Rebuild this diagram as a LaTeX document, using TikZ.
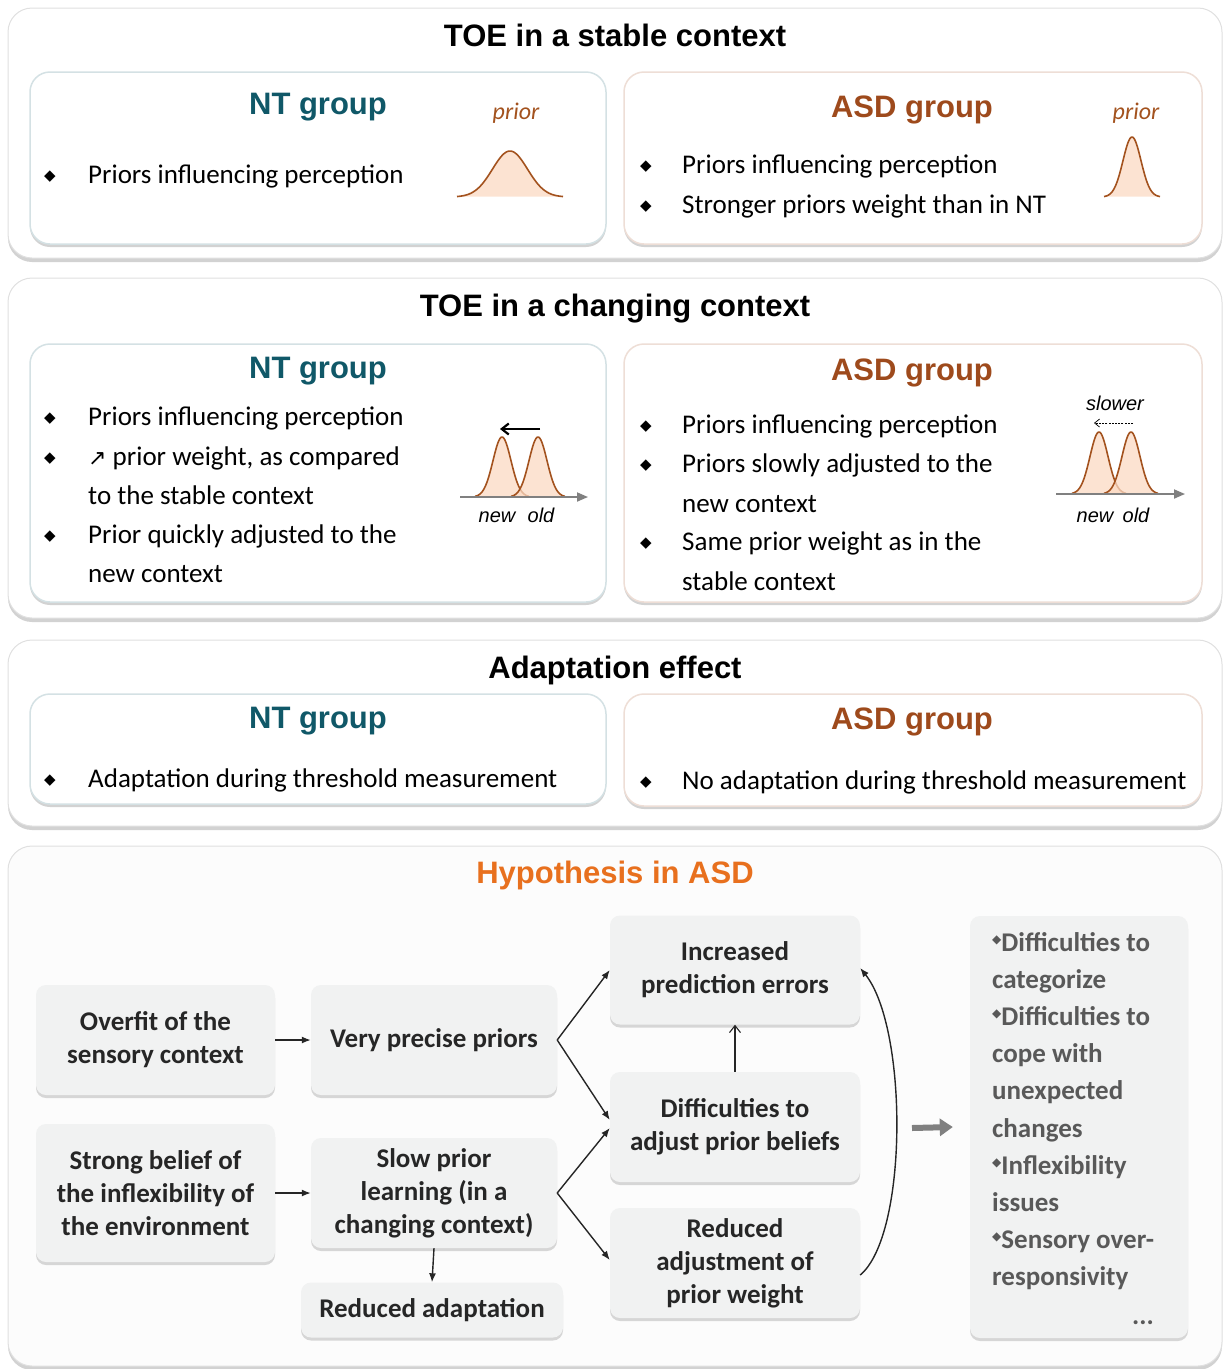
\documentclass[tikz,border=0pt]{standalone}
\usepackage{fontspec}
\setmainfont{Carlito}
\newfontfamily\arialfont{Liberation Sans}
\newfontfamily\symfont{DejaVu Sans}
\usepackage{tikz}
\usetikzlibrary{arrows.meta,positioning,calc,shadows}
\definecolor{ntcol}{RGB}{16,88,104}
\definecolor{asdcol}{RGB}{158,74,28}
\definecolor{hypcol}{RGB}{232,112,30}
\definecolor{gausline}{RGB}{163,82,30}
\definecolor{gausfill}{RGB}{251,218,196}
\definecolor{boxgray}{RGB}{241,242,242}
\definecolor{txtgray}{RGB}{38,38,38}
\definecolor{listgray}{RGB}{89,89,89}
\newcommand{\bul}{{\symfont\fontsize{15}{15}\selectfont\raisebox{3pt}{◆}}}
\newcommand{\lbul}{{\symfont\fontsize{12}{12}\selectfont\raisebox{8pt}{◆}}}
\newcommand{\priorcurve}[5]{% centre x, base y, height, sigma, half width
  \filldraw[fill=gausfill,fill opacity=0.75,draw=gausline,line width=1.6pt]
    plot[domain=-#5:#5,samples=60,smooth] ({#1+\x},{#2-#3*exp(-0.5*(\x/#4)*(\x/#4))});}

\begin{document}
\begin{tikzpicture}[x=1pt,y=-1pt,
  panel/.style={draw=black!12,line width=1pt,fill=white,rounded corners=24pt,
    drop shadow={shadow xshift=0pt,shadow yshift=-4pt,fill=black!35}},
  ntbox/.style={draw=ntcol!18,line width=1.5pt,fill=white,rounded corners=20pt,
    drop shadow={shadow xshift=0pt,shadow yshift=-3pt,fill=black!35}},
  asdbox/.style={ntbox,draw=asdcol!18},
  title/.style={font=\arialfont\bfseries\fontsize{31}{36}\selectfont,anchor=base,inner sep=0pt},
  ntname/.style={title,text=ntcol},
  asdname/.style={title,text=asdcol},
  body/.style={font=\fontsize{27}{33}\selectfont,anchor=base west,inner sep=0pt},
  bullet/.style={anchor=base,inner sep=0pt},
  priorlab/.style={font=\itshape\fontsize{24}{28}\selectfont,text=gausline,anchor=base,inner sep=0pt},
  axlab/.style={font=\arialfont\itshape\fontsize{20}{24}\selectfont,anchor=base,inner sep=0pt},
  axis/.style={-{Triangle[length=11pt,width=9pt]},draw=black!50,line width=1.8pt},
  hbox/.style={fill=boxgray,rounded corners=10pt,align=center,inner sep=0pt,
    font=\bfseries\fontsize{27}{33}\selectfont,text=txtgray,
    drop shadow={shadow xshift=0pt,shadow yshift=-3pt,fill=black!30}},
  listline/.style={font=\bfseries\fontsize{27}{33}\selectfont,text=listgray,anchor=base west,inner sep=0pt},
  arr/.style={-{Latex[length=9pt,width=7pt]},line width=1.4pt,draw=black!85}]
\useasboundingbox (0,0) rectangle (1224,1369);

% TOE in a stable context
\path[panel] (8,8) rectangle (1222,258);
\node[title] (stabletitle) at (615,46) {TOE in a stable context};
\path[ntbox] (30,72) rectangle (606,244);
\path[asdbox] (624,72) rectangle (1202,244);
\node[ntname] (stablent) at (318,114) {NT group};
\node[asdname] (stableasd) at (912,117) {ASD group};
\node[priorlab] (stablentprior) at (516,119) {prior};
\node[priorlab] (stableasdprior) at (1136,119) {prior};
\node[bullet] (stablentb) at (50,183) {\bul};
\node[body] (stablentl) at (88,183) {Priors influencing perception};
\foreach \n/\y/\t in {a/173/Priors influencing perception,b/213/Stronger priors weight than in NT}{
  \node[bullet] (stableasdb\n) at (646,\y) {\bul};
  \node[body] (stableasdl\n) at (682,\y) {\t};
}
\priorcurve{510}{197}{46}{17.5}{53}
\priorcurve{1132}{197}{60}{9}{28}

% TOE in a changing context
\path[panel] (8,278) rectangle (1222,618);
\node[title] (changetitle) at (615,316) {TOE in a changing context};
\path[ntbox] (30,344) rectangle (606,602);
\path[asdbox] (624,344) rectangle (1202,602);
\node[ntname] (changent) at (318,378) {NT group};
\node[asdname] (changeasd) at (912,380) {ASD group};
\foreach \n/\y/\t in {a/425/Priors influencing perception,b/465/{{\symfont\fontsize{22}{22}\selectfont ↗} prior weight, as compared},
  c/504/to the stable context,d/543/Prior quickly adjusted to the,e/582/new context}
  \node[body] (changentl\n) at (88,\y) {\t};
\foreach \n/\y/\t in {a/433/Priors influencing perception,b/472/Priors slowly adjusted to the,
  c/512/new context,d/550/Same prior weight as in the,e/590/stable context}
  \node[body] (changeasdl\n) at (682,\y) {\t};
\foreach \y in {425,465,543} \node[bullet] (changentb\y) at (50,\y) {\bul};
\foreach \y in {433,472,550} \node[bullet] (changeasdb\y) at (646,\y) {\bul};
\priorcurve{502}{497}{60}{9}{27}
\priorcurve{538}{497}{60}{9}{27}
\draw[axis] (460,497) -- (588,497);
\draw[-{Straight Barb[length=7pt,width=11pt]},line width=2.2pt] (540,429) -- (500,429);
\node[axlab] (ntnew) at (497,522) {new};
\node[axlab] (ntold) at (541,522) {old};
\priorcurve{1099}{494}{62}{9}{27}
\priorcurve{1131}{494}{62}{9}{27}
\draw[axis] (1056,494) -- (1185,494);
\draw[-{Straight Barb[length=5pt,width=8pt]},line width=0.7pt,dash pattern=on 2pt off 1.2pt] (1133,423) -- (1094,423);
\node[axlab] (slower) at (1115,410) {slower};
\node[axlab] (asdnew) at (1095,522) {new};
\node[axlab] (asdold) at (1136,522) {old};

% Adaptation effect
\path[panel] (8,640) rectangle (1222,826);
\node[title] (adapttitle) at (615,678) {Adaptation effect};
\path[ntbox] (30,694) rectangle (606,804);
\path[asdbox] (624,694) rectangle (1202,806);
\node[ntname] (adaptnt) at (318,728) {NT group};
\node[asdname] (adaptasd) at (912,729) {ASD group};
\node[bullet] (adaptntb) at (50,787) {\bul};
\node[body] (adaptntl) at (88,787) {Adaptation during threshold measurement};
\node[bullet] (adaptasdb) at (646,789) {\bul};
\node[body] (adaptasdl) at (682,789) {No adaptation during threshold measurement};

% Hypothesis in ASD
\path[panel,fill=black!1] (8,846) rectangle (1222,1366);
\node[title,text=hypcol] (hyptitle) at (615,883) {Hypothesis in ASD};
\node[hbox,minimum width=239,minimum height=110] (overfit) at (155.5,1040) {Overfit of the\\sensory context};
\node[hbox,minimum width=239,minimum height=138] (belief) at (155.5,1193) {Strong belief of\\the inflexibility of\\the environment};
\node[hbox,minimum width=246,minimum height=110] (precise) at (434,1040) {Very precise priors};
\node[hbox,minimum width=246,minimum height=110] (slow) at (434,1193) {Slow prior\\learning (in a\\changing context)};
\node[hbox,minimum width=262,minimum height=55] (redadapt) at (432,1310) {Reduced adaptation};
\node[hbox,minimum width=250,minimum height=109] (errors) at (735,970) {Increased\\prediction errors};
\node[hbox,minimum width=250,minimum height=110] (adjust) at (735,1127) {Difficulties to\\adjust prior beliefs};
\node[hbox,minimum width=250,minimum height=110] (weight) at (735,1263) {Reduced\\adjustment of\\prior weight};
\node[hbox,minimum width=218,minimum height=422] (effects) at (1079,1127) {};
\foreach \n/\y/\t in {a/951/\lbul Difficulties to,b/988/categorize,c/1025/\lbul Difficulties to,d/1062/cope with,
  e/1099/unexpected,f/1137/changes,g/1174/\lbul Inflexibility,h/1211/issues,i/1248/\lbul Sensory over-,j/1285/responsivity}
  \node[listline] (effects\n) at (992,\y) {\t};
\node[listline,anchor=base] (effectsdots) at (1143,1324) {...};

\draw[arr] (overfit) -- (precise);
\draw[arr] (belief.east) -- (slow.west);
\draw[arr] (precise.east) -- (errors.west);
\draw[arr] (precise.east) -- ([yshift=7pt]adjust.west);
\draw[arr] (slow.east) -- ([yshift=-1pt]adjust.west);
\draw[arr] (slow.east) -- ([yshift=3pt]weight.west);
\draw[arr] (slow.south) -- (redadapt.north);
\draw[-{Straight Barb[length=7pt,width=11pt]},line width=1.1pt,draw=black!85] (adjust.north) -- (errors.south);
\coordinate (weightout) at ([yshift=-12pt]weight.east);
\coordinate (errorsin) at ([yshift=2pt]errors.east);
\draw[arr] (weightout) .. controls +(48,-40) and +(48,60) .. (errorsin);
\coordinate (bigstart) at (912,1128);
\draw[-{Triangle[length=13pt,width=17pt]},line width=6pt,draw=black!50] (bigstart) -- ([xshift=-17pt]effects.west);
\end{tikzpicture}
\end{document}
